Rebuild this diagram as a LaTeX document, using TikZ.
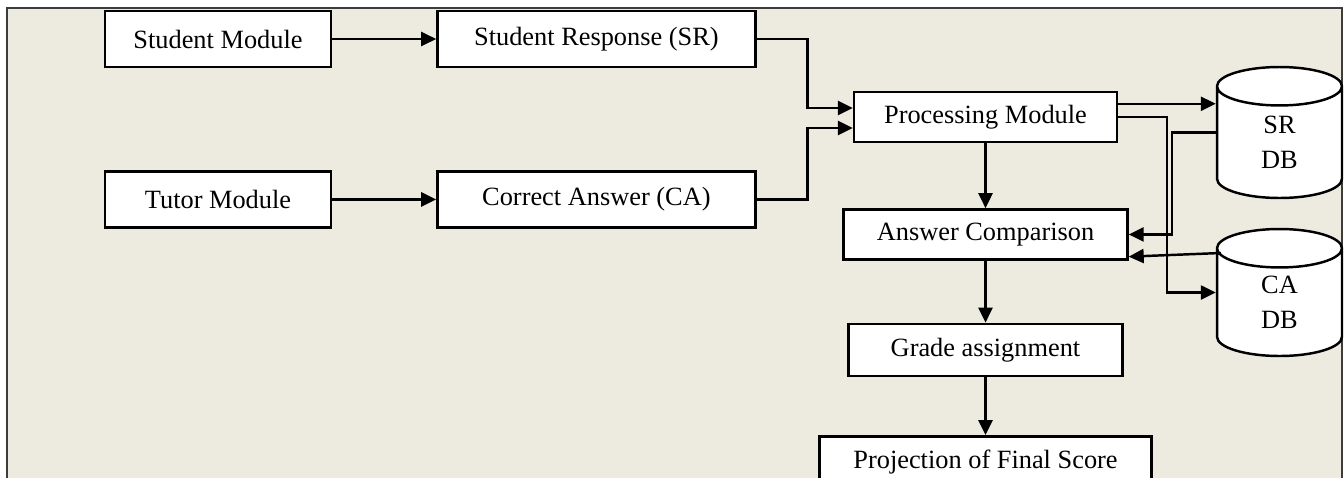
\documentclass[tikz,border=0pt]{standalone}
\usepackage{fontspec}
\setmainfont{Liberation Serif}
\usetikzlibrary{positioning,shapes.geometric,arrows.meta,calc}
\definecolor{panelbg}{RGB}{237,234,224}
\definecolor{framegray}{RGB}{60,60,60}

\begin{document}
\begin{tikzpicture}[
    x=0.02cm, y=-0.02cm,
    line width=1.4pt,
    font=\fontsize{15}{20}\selectfont,
    module/.style={draw, fill=white, inner sep=0pt, minimum height=1.12cm},
    stage/.style={draw, fill=white, inner sep=0pt, minimum height=1cm},
    store/.style={draw, fill=white, cylinder, shape border rotate=90, aspect=1.05,
                  minimum width=2.5cm, align=center, inner sep=0pt, anchor=shape center},
    flow/.style={-{Triangle[length=0.3cm,width=0.28cm]}}
]
    \useasboundingbox (0,0) rectangle (1344,477);
    \clip (0,0) rectangle (1344,477);
    % Panel
    \fill[panelbg] (7,8) rectangle (1342,490);
    \draw[framegray] (7,490) -- (7,8) -- (1342,8) -- (1342,490);

    % Modules
    \node[module, minimum width=4.52cm] (student) at (218,39) {Student Module};
    \node[module, minimum width=6.36cm, right=2.08cm of student] (response) {Student Response (SR)};
    \node[module, minimum width=4.52cm, below=2.04cm of student] (tutor) {Tutor Module};
    \node[module, minimum width=6.36cm, below=2.04cm of response] (answer) {Correct Answer (CA)};

    % Processing chain
    \node[stage, minimum width=5.26cm] (process) at (985.5,117) {Processing Module};
    \node[stage, minimum width=5.68cm, below=1.3cm of process] (compare) {Answer Comparison};
    \node[stage, minimum width=5.48cm, minimum height=1.04cm, below=1.24cm of compare] (grade) {Grade assignment};
    \node[stage, minimum width=6.64cm, minimum height=1.04cm, below=1.16cm of grade] (score) {Projection of Final Score};

    % Databases
    \node[store, minimum height=2.62cm] (srdb) at (1279.5,132.5) {SR\\DB};
    \node[store, minimum height=2.54cm] (cadb) at (1279.5,292.5) {CA\\DB};
    \coordinate (srin) at ($(process.north east)+(0,13)$);
    \coordinate (srout) at (srdb.shape center -| srdb.west);
    \coordinate (cain) at (cadb.shape center -| cadb.west);

    % Connectors
    \draw[flow] (student) -- (response);
    \draw[flow] (tutor) -- (answer);
    \draw[flow] (response.east) -- ++(51,0) |- ($(process.west)+(0,-9)$);
    \draw[flow] (answer.east) -- ++(51,0) |- ($(process.west)+(0,11)$);
    \draw[flow] (srin) -- (srin -| srdb.west);
    \draw[flow] ($(process.north east)+(0,26)$) -- ++(49,0) |- (cain);
    \draw[flow] (srout) -- ++(-44,0) |- (compare.east);
    \draw[flow] ($(cain)+(5,-39.5)$) -- ($(compare.south east)+(0,-4)$);
    \draw[flow] (process) -- (compare);
    \draw[flow] (compare) -- (grade);
    \draw[flow] (grade) -- (score);
\end{tikzpicture}
\end{document}
